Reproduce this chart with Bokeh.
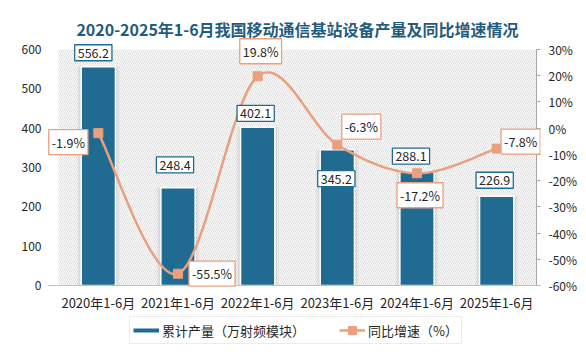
import numpy as np
from bokeh.plotting import figure
from bokeh.models import (Range1d, LinearAxis, FixedTicker, Label, Legend, LegendItem, Span)
from bokeh.embed import file_html
from bokeh.resources import INLINE

# ---- data ----
periods = ["2020年1-6月", "2021年1-6月", "2022年1-6月", "2023年1-6月", "2024年1-6月", "2025年1-6月"]
output = [556.2, 248.4, 402.1, 345.2, 288.1, 226.9]
growth = [-1.9, -55.5, 19.8, -6.3, -17.2, -7.8]
left_ticks = [0, 100, 200, 300, 400, 500, 600]
right_ticks = [-60, -50, -40, -30, -20, -10, 0, 10, 20, 30]
series_names = ["累计产量（万射频模块）", "同比增速（%）"]
title_text = "2020-2025年1-6月我国移动通信基站设备产量及同比增速情况"

# ---- label placement (screen px offsets) ----
bar_dx = [-5, -3, -2, -1, -6, -2]
bar_dy = [14, 23, 14, -29, 16, 16]
line_dx = [-30, 34, 3, 24, 3, 24]
line_dy = [-9, 0, 25, 18, -22, 7]

BAR = "#1F6B92"
LINE = "#EAA07F"
TXT = "#262626"
FONT = "Noto Sans CJK SC"

# ---- layout (px) ----
W, H = 586, 361
PLOT_L, PLOT_R, PLOT_T, PLOT_B = 58, 536, 49, 285   # value area
FRAME_L, FRAME_R = 47, 540                           # drawing frame (wider so labels are not clipped)
n = len(periods)
cw = (PLOT_R - PLOT_L) / n
ph = PLOT_B - PLOT_T
lo, hi = left_ticks[0], left_ticks[-1]
plo, phi = right_ticks[0], right_ticks[-1]
upx = (hi - lo) / ph
ppx = (phi - plo) / ph

x_range = Range1d(-(PLOT_L - FRAME_L) / cw, n + (FRAME_R - PLOT_R) / cw)
y_range = Range1d(lo - (H - PLOT_B) * upx, hi + PLOT_T * upx)

p = figure(width=W, height=H, x_range=x_range, y_range=y_range,
           output_backend="svg", toolbar_location=None,
           min_border_left=FRAME_L, min_border_right=W - FRAME_R,
           min_border_top=0, min_border_bottom=0)
p.extra_y_ranges = {"pct": Range1d(plo - (H - PLOT_B) * ppx, phi + PLOT_T * ppx)}
p.outline_line_color = None
p.xgrid.visible = False
p.ygrid.visible = False
p.xaxis.visible = False

# hatched value area
p.quad(left=[0], right=[n], bottom=[lo], top=[hi], fill_alpha=0, line_alpha=0,
       hatch_pattern="\\", hatch_color="#d4d4d4", hatch_scale=4, hatch_weight=0.8)

xs = np.arange(n) + 0.5

# bar shadows + bars
p.vbar(x=xs, top=output, width=0.54, fill_color="#000000", fill_alpha=0.035, line_color=None)
p.vbar(x=xs, top=output, width=0.49, fill_color="#000000", fill_alpha=0.06, line_color=None)
bars = p.vbar(x=xs, top=output, width=0.43, fill_color=BAR, line_color="white", line_width=1.5)

# category axis line + labels
p.add_layout(Span(location=lo, dimension="width", line_color="#bfbfbf", line_width=1))
for xc, cat in zip(xs, periods):
    p.add_layout(Label(x=float(xc), y=lo, y_offset=-17, text=cat, text_align="center",
                       text_baseline="middle", text_font=FONT, text_font_size="13px",
                       text_color=TXT))

# title
p.add_layout(Label(x=n / 2, y=hi, y_offset=21, text=title_text, text_align="center",
                   text_baseline="middle", text_font=FONT, text_font_size="16px",
                   text_font_style="bold", text_color="#1F5C7E"))

# smoothed growth line (Catmull-Rom through the data points)
pts = np.column_stack([xs, np.array(growth, dtype=float)])
P = np.vstack([pts[0], pts, pts[-1]])
t = np.linspace(0, 1, 30)[:, None]
cx, cy = [], []
for i in range(len(pts) - 1):
    p0, p1, p2, p3 = P[i], P[i + 1], P[i + 2], P[i + 3]
    c1 = p1 + (p2 - p0) / 6.0
    c2 = p2 - (p3 - p1) / 6.0
    b = (1 - t) ** 3 * p1 + 3 * (1 - t) ** 2 * t * c1 + 3 * (1 - t) * t ** 2 * c2 + t ** 3 * p2
    cx.extend(b[:, 0].tolist())
    cy.extend(b[:, 1].tolist())
curve = p.line(x=cx, y=cy, line_color=LINE, line_width=2.5, y_range_name="pct")
marks = p.scatter(x=xs, y=growth, marker="square", size=9, fill_color=LINE,
                  line_color=LINE, y_range_name="pct")

# left axis
ya = p.yaxis[0]
ya.ticker = FixedTicker(ticks=left_ticks)
ya.axis_line_color = None
ya.major_tick_line_color = None
ya.minor_tick_line_color = None
ya.major_label_standoff = 0
ya.major_label_text_font = FONT
ya.major_label_text_font_size = "12px"
ya.major_label_text_color = TXT

# right axis (line drawn at the value-area edge, ticks pointing outwards from it)
p.segment(x0=[n], y0=[plo], x1=[n], y1=[phi], line_color="#a6a6a6", line_width=1,
          y_range_name="pct")
ra = LinearAxis(y_range_name="pct", ticker=FixedTicker(ticks=right_ticks),
                major_label_overrides={v: f"{v}%" for v in right_ticks})
ra.axis_line_color = None
ra.major_tick_line_color = "#a6a6a6"
ra.major_tick_in = FRAME_R - PLOT_R
ra.major_tick_out = 0
ra.minor_tick_line_color = None
ra.major_label_standoff = 8
ra.major_label_text_font = FONT
ra.major_label_text_font_size = "12px"
ra.major_label_text_color = TXT
p.add_layout(ra, "right")

# data labels
for xc, v, dx, dy in zip(xs, output, bar_dx, bar_dy):
    p.add_layout(Label(x=float(xc), y=v, text=f"{v:.1f}", x_offset=dx, y_offset=dy,
                       text_align="center", text_baseline="middle", text_font=FONT,
                       text_font_size="12.5px", text_color=TXT,
                       background_fill_color="white", border_line_color=BAR,
                       border_line_width=1.3, padding=3))
for xc, g, dx, dy in zip(xs, growth, line_dx, line_dy):
    p.add_layout(Label(x=float(xc), y=g, text=f"{g:.1f}%", x_offset=dx, y_offset=dy,
                       y_range_name="pct",
                       text_align="center", text_baseline="middle", text_font=FONT,
                       text_font_size="12.5px", text_color=TXT,
                       background_fill_color="white", border_line_color=LINE,
                       border_line_width=1.3, padding=3))

# legend: a hidden thick line in the bar colour serves as the bar series key
bar_key = p.line(x=xs, y=output, line_color=BAR, line_width=4, visible=False)
legend = Legend(items=[LegendItem(label=series_names[0], renderers=[bar_key]),
                       LegendItem(label=series_names[1], renderers=[curve, marks])],
                orientation="horizontal", location=(82, 17),
                glyph_width=26, glyph_height=20, label_standoff=3, spacing=34,
                padding=3, margin=0, border_line_color="#d9d9d9",
                background_fill_color="white", inactive_fill_alpha=0,
                label_text_font=FONT, label_text_font_size="13px", label_text_color=TXT)
p.add_layout(legend, "center")

open("out.html", "w").write(file_html(p, INLINE))
